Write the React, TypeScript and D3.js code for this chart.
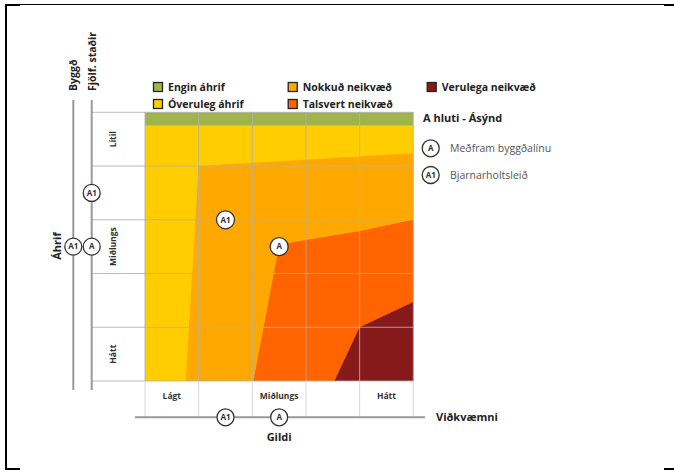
import React from 'react';
import * as d3 from 'd3';

const W = 674;
const H = 471;
const FONT = "'Open Sans', 'DejaVu Sans', sans-serif";

// Grid (5 x 5 units); x: Viðkvæmni (left→right), y: Áhrif (top Lítil → bottom Hátt)
const gridTicks = [0, 1, 2, 3, 4, 5];
const rowLabels = ['Lítil', 'Miðlungs', 'Hátt'];
const rowSpans: [number, number][] = [[0, 1], [1, 4], [4, 5]];
const colLabels = ['Lágt', 'Miðlungs', 'Hátt'];
const colSpans: [number, number][] = [[0, 1], [1, 4], [4, 5]];

// Zone polygons in grid units
const zoneNames = ['Engin áhrif', 'Óveruleg áhrif', 'Nokkuð neikvæð', 'Talsvert neikvæð', 'Verulega neikvæð'];
const zoneColors = ['#9fb44a', '#ffcd00', '#ffa900', '#ff6400', '#861a1a'];
const zoneEngin: [number, number][] = [[0, 0], [5, 0], [5, 0.25], [0, 0.25]];
const zoneOveruleg: [number, number][] = [[0, 0.25], [5, 0.25], [5, 5], [0, 5]];
const zoneNokkud: [number, number][] = [[1, 1], [5, 0.76], [5, 5], [0.76, 5]];
const zoneTalsvert: [number, number][] = [[2.02, 5], [2.46, 2.69], [2.61, 2.44], [4.01, 2.21], [5, 2.0], [5, 5]];
const zoneVerulega: [number, number][] = [[3.53, 5], [4.0, 4.0], [5, 3.53], [5, 5]];
const zones = [zoneEngin, zoneOveruleg, zoneNokkud, zoneTalsvert, zoneVerulega];

// Options
const optionCodes = ['A', 'A1'];
const optionNames = ['Meðfram byggðalínu', 'Bjarnarholtsleið'];
const optionX = [2.5, 1.5]; // Viðkvæmni
const optionY = [2.5, 2.0]; // Áhrif
// Side axes
const fjolfCodes = ['A1', 'A'];
const fjolfY = [1.5, 2.5];
const byggdCodes = ['A1'];
const byggdY = [2.5];
const gildiCodes = ['A1', 'A'];
const gildiX = [1.5, 2.5];

// Legend layout order
const legendOrder = [0, 2, 4, 1, 3];

export default function App() {
  const x = d3.scaleLinear().domain([0, 5]).range([145, 413.3]);
  const y = d3.scaleLinear().domain([0, 5]).range([112.3, 381]);
  const line = d3.line<[number, number]>().x(d => x(d[0])).y(d => y(d[1]));

  const byggdX = 73.3;
  const fjolfX = 91.7;
  const gildiY = 417.3;

  const marker = (cx: number, cy: number, code: string, r: number, key: string) => (
    <g key={key} transform={`translate(${cx},${cy})`}>
      <circle r={r} fill="#fff" stroke="#333" strokeWidth={1.3} />
      <text textAnchor="middle" dy="0.35em" fontSize={8} fontWeight={700} fill="#333" fontFamily={FONT}>{code}</text>
    </g>
  );

  const legendPos = [
    [153, 82], [287.7, 82], [426.7, 82], [153, 99], [287.7, 99],
  ];

  return (
    <svg width={W} height={H} style={{ position: 'absolute', left: 0, top: 0, background: '#fff' }} fontFamily={FONT}>
      {/* frame */}
      <line x1={5} y1={4.5} x2={674} y2={4.5} stroke="#000" strokeWidth={1} />
      <line x1={5} y1={5} x2={20} y2={5} stroke="#000" strokeWidth={2} />
      <line x1={664} y1={5} x2={674} y2={5} stroke="#000" strokeWidth={2} />
      <line x1={6} y1={4} x2={6} y2={470} stroke="#000" strokeWidth={2} />
      <line x1={5} y1={469} x2={20} y2={469} stroke="#000" strokeWidth={2} />
      <line x1={664} y1={469} x2={674} y2={469} stroke="#000" strokeWidth={2} />

      {/* zones */}
      {[1, 0, 2, 3, 4].map(i => (
        <path key={`z${i}`} d={line(zones[i]) + 'Z'} fill={zoneColors[i]} />
      ))}

      {/* grid */}
      {gridTicks.map(t => (
        <line key={`gv${t}`} x1={x(t)} x2={x(t)} y1={y(0)} y2={y(5)} stroke="#b0b0b0" strokeOpacity={0.85} strokeWidth={1} />
      ))}
      {gridTicks.map(t => (
        <line key={`gh${t}`} x1={fjolfX} x2={x(5)} y1={y(t)} y2={y(t)} stroke="#b0b0b0" strokeOpacity={0.85} strokeWidth={1} />
      ))}
      {/* bottom label cells dividers */}
      {gridTicks.map(t => (
        <line key={`bv${t}`} x1={x(t)} x2={x(t)} y1={y(5)} y2={gildiY} stroke="#d8d8d8" strokeWidth={1} />
      ))}

      {/* row labels */}
      {rowLabels.map((lab, i) => {
        const cy = y((rowSpans[i][0] + rowSpans[i][1]) / 2);
        return (
          <text key={`rl${i}`} transform={`translate(116,${cy}) rotate(-90)`} textAnchor="middle"
            fontSize={8.5} fontWeight={700} fill="#333">{lab}</text>
        );
      })}
      {/* col labels */}
      {colLabels.map((lab, i) => {
        const cx = x((colSpans[i][0] + colSpans[i][1]) / 2);
        return (
          <text key={`cl${i}`} x={cx} y={399} textAnchor="middle" fontSize={8.5} fontWeight={700} fill="#333">{lab}</text>
        );
      })}

      {/* left axes */}
      <line x1={byggdX} x2={byggdX} y1={100} y2={390} stroke="#999" strokeWidth={2} />
      <line x1={fjolfX} x2={fjolfX} y1={100} y2={390} stroke="#999" strokeWidth={2} />
      <text transform={`translate(${byggdX + 4},91) rotate(-90)`} fontSize={10.5} fontWeight={700} fill="#222">Byggð</text>
      <text transform={`translate(${fjolfX + 4},91) rotate(-90)`} fontSize={10.5} fontWeight={700} fill="#222">Fjölf. staðir</text>
      <text transform={`translate(61,246) rotate(-90)`} textAnchor="middle" fontSize={11} fontWeight={700} fill="#222">Áhrif</text>
      {fjolfCodes.map((c, i) => marker(fjolfX, y(fjolfY[i]), c, 8.5, `f${i}`))}
      {byggdCodes.map((c, i) => marker(byggdX, y(byggdY[i]), c, 8.5, `b${i}`))}

      {/* bottom axis */}
      <line x1={135} x2={425} y1={gildiY} y2={gildiY} stroke="#999" strokeWidth={2} />
      <text x={436} y={421} fontSize={11} fontWeight={700} fill="#222">Viðkvæmni</text>
      <text x={x(2.5)} y={441} textAnchor="middle" fontSize={11} fontWeight={700} fill="#222">Gildi</text>
      {gildiCodes.map((c, i) => marker(x(gildiX[i]), gildiY, c, 8.5, `g${i}`))}

      {/* plot markers */}
      {optionCodes.map((c, i) => marker(x(optionX[i]), y(optionY[i]), c, 9, `p${i}`))}

      {/* legend */}
      {legendOrder.map((zi, k) => (
        <g key={`lg${zi}`} transform={`translate(${legendPos[k][0]},${legendPos[k][1]})`}>
          <rect x={0.5} y={0.5} width={9} height={9} fill={zoneColors[zi]} stroke="#222" strokeWidth={1.3} />
          <text x={15} y={8.5} fontSize={10.5} fontWeight={700} fill="#222">{zoneNames[zi]}</text>
        </g>
      ))}

      {/* right legend */}
      <text x={423} y={121.5} fontSize={11} fontWeight={700} fill="#222">A hluti - Ásýnd</text>
      {optionCodes.map((c, i) => (
        <g key={`ol${i}`}>
          {marker(430.7, 148.3 + i * 26.7, c, 8.5, `om${i}`)}
          <text x={450} y={152 + i * 26.7} fontSize={10.5} fill="#555">{optionNames[i]}</text>
        </g>
      ))}
    </svg>
  );
}
